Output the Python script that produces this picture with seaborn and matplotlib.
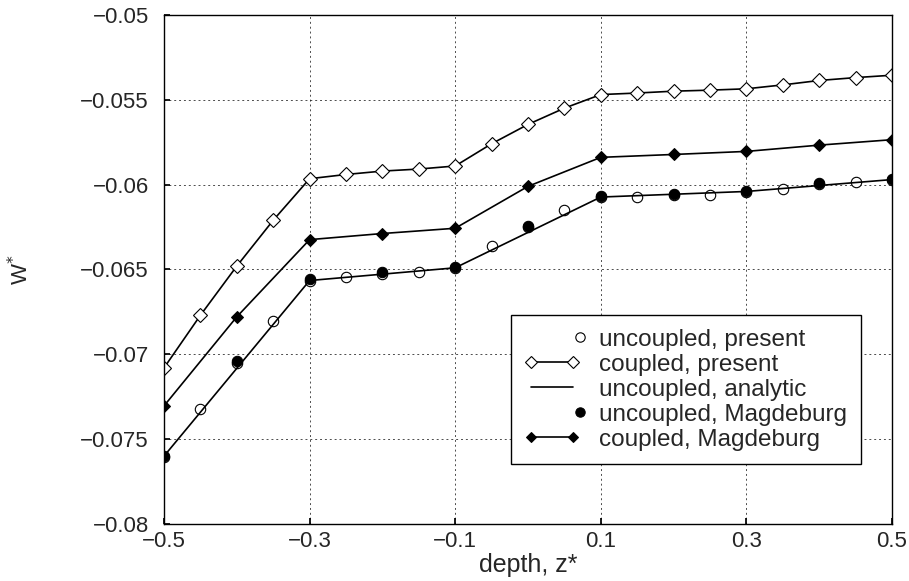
import numpy as np
import pandas as pd
import matplotlib
matplotlib.use("Agg")
import matplotlib.pyplot as plt
import seaborn as sns
from matplotlib.legend_handler import HandlerLine2D

# depth positions
z_fine = [-0.5, -0.45, -0.4, -0.35, -0.3, -0.25, -0.2, -0.15, -0.1, -0.05,
          0.0, 0.05, 0.1, 0.15, 0.2, 0.25, 0.3, 0.35, 0.4, 0.45, 0.5]
z_coarse = [-0.5, -0.4, -0.3, -0.2, -0.1, 0.0, 0.1, 0.2, 0.3, 0.4, 0.5]
z_analytic = [-0.5, -0.3, -0.1, 0.1, 0.3, 0.5]

w_uncoupled_present = [-0.07608, -0.07324, -0.07049, -0.06802, -0.06565, -0.06547,
                       -0.06524, -0.06514, -0.06492, -0.06363, -0.06248, -0.06151,
                       -0.06073, -0.06073, -0.06059, -0.06059, -0.06045, -0.06027,
                       -0.05996, -0.05986, -0.05971]
w_coupled_present = [-0.0708, -0.0677, -0.0648, -0.0621, -0.05965, -0.0594,
                     -0.0592, -0.05908, -0.0589, -0.05759, -0.05645, -0.05549,
                     -0.05469, -0.0546, -0.05449, -0.05443, -0.05435, -0.05412,
                     -0.05386, -0.05369, -0.05355]
w_uncoupled_analytic = [-0.0760, -0.06565, -0.0649, -0.06073, -0.0604, -0.0597]
w_uncoupled_magdeburg = [-0.0760, -0.0704, -0.06555, -0.06516, -0.06486, -0.06241,
                         -0.06069, -0.06053, -0.06039, -0.0599, -0.05967]
w_coupled_magdeburg = [-0.07304, -0.06779, -0.06324, -0.06288, -0.06257, -0.0601,
                       -0.05839, -0.05822, -0.05804, -0.05767, -0.05735]

x_ticks = [-0.5, -0.3, -0.1, 0.1, 0.3, 0.5]
y_ticks = [-0.08, -0.075, -0.07, -0.065, -0.06, -0.055, -0.05]


class RightMarker(HandlerLine2D):
    # marker drawn at the right end of the legend handle
    def create_artists(self, *args, **kwargs):
        arts = super().create_artists(*args, **kwargs)
        arts[0].set_markevery([2])
        return arts


sns.set_theme(style="ticks")
plt.rcParams["font.family"] = ["Liberation Sans", "DejaVu Sans"]

fig, ax = plt.subplots(figsize=(9.09, 5.81), dpi=100)
fig.subplots_adjust(left=0.1804, right=0.9813, top=0.9742, bottom=0.0981)

df_up = pd.DataFrame({"z": z_fine, "w": w_uncoupled_present})
df_cp = pd.DataFrame({"z": z_fine, "w": w_coupled_present})
df_ua = pd.DataFrame({"z": z_analytic, "w": w_uncoupled_analytic})
df_um = pd.DataFrame({"z": z_coarse, "w": w_uncoupled_magdeburg})
df_cm = pd.DataFrame({"z": z_coarse, "w": w_coupled_magdeburg})

lw = 1.2
sns.lineplot(data=df_up, x="z", y="w", ax=ax, linestyle="none", marker="o",
             markersize=7.5, markerfacecolor="white", markeredgecolor="black",
             markeredgewidth=0.8, color="black", label="uncoupled, present")
sns.lineplot(data=df_cp, x="z", y="w", ax=ax, color="black", linewidth=lw,
             marker="D", markersize=7, markerfacecolor="white",
             markeredgecolor="black", markeredgewidth=0.8, label="coupled, present")
sns.lineplot(data=df_ua, x="z", y="w", ax=ax, color="black", linewidth=lw,
             label="uncoupled, analytic")
sns.lineplot(data=df_um, x="z", y="w", ax=ax, linestyle="none", marker="o",
             markersize=7.5, markerfacecolor="black", markeredgecolor="black",
             color="black", label="uncoupled, Magdeburg")
sns.lineplot(data=df_cm, x="z", y="w", ax=ax, color="black", linewidth=lw,
             marker="D", markersize=6, markerfacecolor="black",
             markeredgecolor="black", label="coupled, Magdeburg")

ax.set_xlim(-0.5, 0.5)
ax.set_ylim(-0.08, -0.05)
ax.set_xticks(x_ticks)
ax.set_yticks(y_ticks)
ax.set_xticklabels([f"{v:g}".replace("-", "\u2212") for v in x_ticks])
ax.set_yticklabels([f"{v:g}".replace("-", "\u2212") for v in y_ticks])
ax.tick_params(direction="in", length=4, labelsize=16, color="black")
ax.tick_params(axis="y", pad=11)
ax.tick_params(axis="x", pad=5)
ax.grid(True, linestyle=(0, (2, 3)), color="black", linewidth=0.7, alpha=0.7)
for s in ax.spines.values():
    s.set_visible(True)
    s.set_color("black")
    s.set_linewidth(1.0)

ax.set_xlabel("depth, z*", fontsize=18, labelpad=1)
ax.set_ylabel("W$^{*}$", fontsize=16)
ax.yaxis.set_label_coords(-0.18, 0.5)

handles, labels = ax.get_legend_handles_labels()
hmap = {handles[0]: RightMarker(numpoints=1), handles[3]: RightMarker(numpoints=1)}
leg = ax.legend(handles, labels, loc="lower right", bbox_to_anchor=(0.957, 0.118),
                fontsize=17.5, numpoints=2, handlelength=2.3, handletextpad=0.8,
                markerscale=0.9, fancybox=False, framealpha=1, edgecolor="black",
                labelspacing=0.12, borderpad=0.55, borderaxespad=0,
                handler_map=hmap)
leg.get_frame().set_linewidth(1.0)

plt.savefig("out.png", dpi=100)
